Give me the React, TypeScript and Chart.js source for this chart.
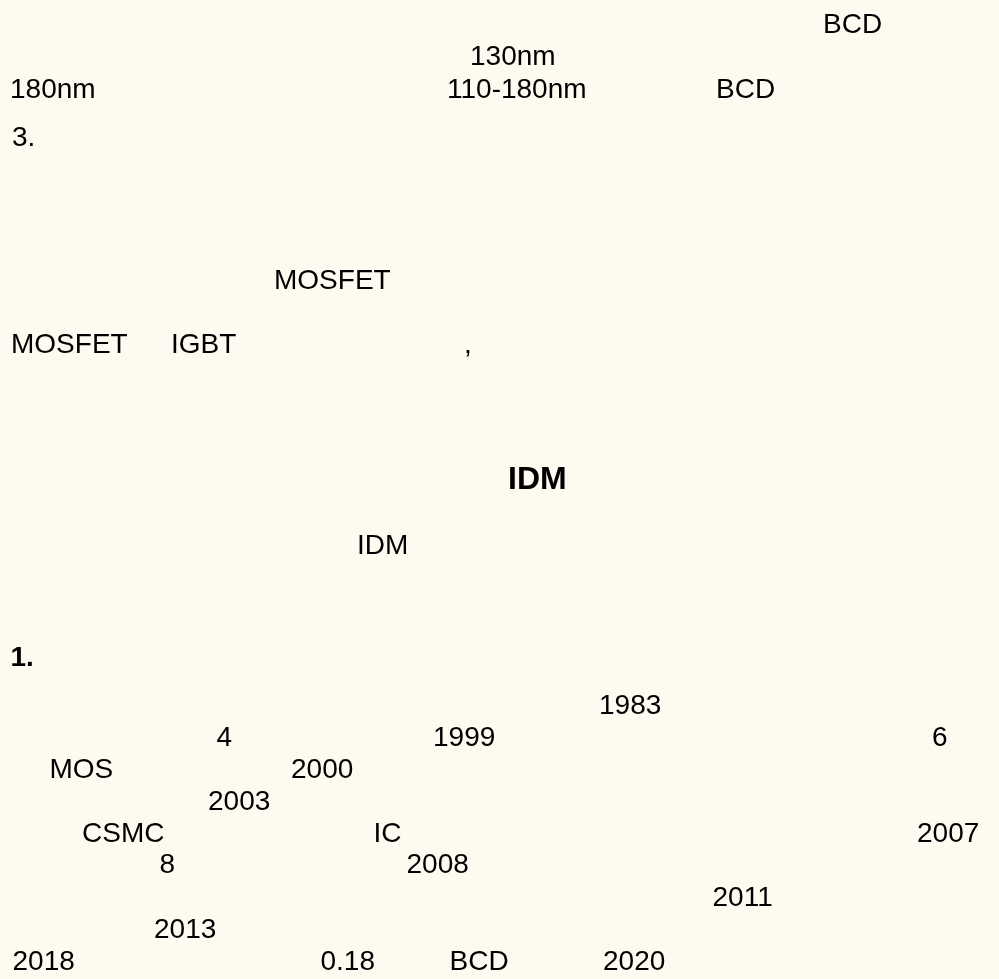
import React, { useEffect, useRef } from "react";
import { Chart, registerables } from "chart.js";

Chart.register(...registerables);

// Text fragments on the page (the CJK characters of the original were not rendered)
const WORDS: string[] = [
  "BCD", "130nm", "180nm", "110-180nm", "BCD", "3.",
  "MOSFET", "MOSFET", "IGBT", ",",
  "IDM", "IDM", "1.",
  "1983", "4", "1999", "6", "MOS", "2000", "2003",
  "CSMC", "IC", "2007", "8", "2008", "2011", "2013",
  "2018", "0.18", "BCD", "2020",
];
// Horizontal position of each fragment (page units, left to right)
const COLUMN: number[] = [
  823, 470, 10, 447, 716, 12,
  274, 11, 171, 464,
  508, 357, 10.5,
  599, 216.5, 433, 932, 49.5, 291, 208,
  82, 373.5, 917, 159.5, 406.5, 712.5, 154,
  12.5, 320.5, 449.5, 603,
];
// Baseline of each fragment (page units, top to bottom)
const LINE: number[] = [
  33.3, 65, 97.7, 97.7, 97.7, 145.7,
  289.3, 352.7, 352.7, 352.7,
  489, 554.3, 665.7,
  714, 746, 746, 746, 777.7, 777.7, 809.5,
  841.7, 841.7, 841.7, 873.3, 873.3, 906, 937.7,
  970, 970, 970, 970,
];
// Emphasis: "h" = bold heading, "b" = bold, "" = plain
const EMPHASIS: string[] = [
  "", "", "", "", "", "",
  "", "", "", "",
  "h", "", "b",
  "", "", "", "", "", "", "",
  "", "", "", "", "", "", "",
  "", "", "", "",
];

const PAGE_W = 999;
const PAGE_H = 979;
const BG = "#fffaf0";
const FONT_FAMILY = '"Liberation Sans", Arial, Helvetica, sans-serif';

const fontFor = (e: string) =>
  e === "h" ? `bold 32px ${FONT_FAMILY}` : e === "b" ? `bold 28px ${FONT_FAMILY}` : `28px ${FONT_FAMILY}`;

const backgroundPlugin = {
  id: "pageBackground",
  beforeDraw(chart: any) {
    const { ctx, width, height } = chart;
    ctx.save();
    ctx.fillStyle = BG;
    ctx.fillRect(0, 0, width, height);
    ctx.restore();
  },
};

const textPlugin = {
  id: "wordLabels",
  afterDatasetsDraw(chart: any) {
    const ctx = chart.ctx;
    const meta = chart.getDatasetMeta(0);
    ctx.save();
    ctx.fillStyle = "#000000";
    ctx.textAlign = "left";
    ctx.textBaseline = "alphabetic";
    meta.data.forEach((el: any, i: number) => {
      ctx.font = fontFor(EMPHASIS[i]);
      ctx.fillText(WORDS[i], el.x, el.y);
    });
    ctx.restore();
  },
};

export default function App() {
  const canvasRef = useRef<HTMLCanvasElement | null>(null);

  useEffect(() => {
    document.body.style.margin = "0";
    document.body.style.background = BG;
    const canvas = canvasRef.current;
    if (!canvas) return;
    const points = WORDS.map((_, i) => ({ x: COLUMN[i], y: LINE[i] }));
    const chart = new Chart(canvas, {
      type: "scatter",
      data: {
        datasets: [
          {
            data: points,
            pointRadius: 0,
            pointHoverRadius: 0,
            showLine: false,
          },
        ],
      },
      options: {
        animation: false,
        responsive: false,
        devicePixelRatio: 1,
        layout: { padding: 0 },
        events: [],
        plugins: {
          legend: { display: false },
          tooltip: { enabled: false },
          title: { display: false },
        },
        scales: {
          x: { type: "linear", min: 0, max: PAGE_W, display: false },
          y: { type: "linear", min: 0, max: PAGE_H, reverse: true, display: false },
        },
      },
      plugins: [backgroundPlugin, textPlugin],
    });
    return () => chart.destroy();
  }, []);

  return (
    <div style={{ position: "fixed", left: 0, top: 0, width: PAGE_W, height: PAGE_H, background: BG }}>
      <canvas ref={canvasRef} width={PAGE_W} height={PAGE_H} style={{ display: "block" }} />
    </div>
  );
}
